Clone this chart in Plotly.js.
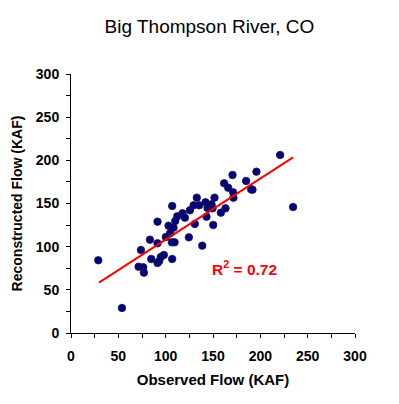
<!DOCTYPE html>
<html>
<head>
<meta charset="utf-8">
<script src="https://cdn.plot.ly/plotly-3.0.1.min.js"></script>
<style>html,body{margin:0;padding:0;background:#fff;}#chart{width:399px;height:404px;}</style>
</head>
<body>
<div id="chart"></div>
<script>
const observed = [28.8, 53.8, 71.4, 76.3, 77.0, 73.9, 83.4, 84.8, 91.4, 91.4, 91.4, 93.2, 94.9, 98.1, 100.2, 103.0, 104.8, 106.9, 106.6, 109.4, 106.9, 108.3, 110.1, 112.2, 117.8, 120.3, 124.5, 125.6, 129.5, 130.8, 132.9, 135.4, 138.6, 142.1, 144.2, 143.1, 148.4, 149.5, 150.2, 151.6, 158.3, 161.8, 163.2, 166.0, 170.6, 171.3, 171.6, 185.0, 190.3, 191.7, 195.9, 220.9, 234.6];
const reconstructed = [84.2, 29.0, 76.8, 76.1, 69.9, 96.1, 108.1, 85.7, 129.0, 103.9, 81.1, 83.4, 88.0, 90.4, 111.2, 124.3, 115.8, 147.1, 105.0, 105.0, 85.7, 122.0, 129.7, 135.1, 138.6, 133.6, 110.8, 142.1, 147.9, 126.3, 156.8, 147.9, 101.2, 151.4, 144.8, 134.7, 149.0, 144.4, 125.1, 156.8, 139.4, 173.4, 144.4, 168.3, 183.0, 162.9, 156.8, 176.1, 166.4, 166.0, 186.9, 206.2, 145.9];
const trendX = [29.5, 234.6];
const trendY = [58.3, 203.5];
const r2Label = 'R<sup>2</sup> = 0.72';
const r2Pos = [183.5, 75.6];

const traces = [
  {x: observed, y: reconstructed, mode: 'markers', type: 'scatter',
   marker: {size: 7.5, color: '#000080', line: {color: '#1a1a40', width: 0.8}}, hoverinfo: 'skip'},
  {x: trendX, y: trendY, mode: 'lines', type: 'scatter',
   line: {color: '#ff0000', width: 2}, hoverinfo: 'skip'}
];
const axisCommon = {
  range: [0, 300], dtick: 50, tick0: 0, showgrid: false, zeroline: false,
  showline: true, linecolor: '#000', linewidth: 1,
  ticks: 'outside', ticklen: 4, tickcolor: '#000', tickwidth: 1,
  minor: {dtick: 25, ticks: 'outside', ticklen: 4, tickcolor: '#000', tickwidth: 1, showgrid: false},
  tickfont: {family: 'Liberation Sans, Arial, sans-serif', size: 14, color: '#000', weight: 'bold'},
  fixedrange: true
};
const layout = {
  width: 399, height: 404,
  margin: {l: 71, r: 44, t: 74, b: 71},
  paper_bgcolor: '#fff', plot_bgcolor: '#fff',
  showlegend: false,
  font: {family: 'Liberation Sans, Arial, sans-serif', color: '#000'},
  title: {text: 'Big Thompson River, CO', x: 0.525, xanchor: 'center', y: 0.936, yanchor: 'middle',
          font: {family: 'Liberation Sans, Arial, sans-serif', size: 19, color: '#000'}},
  xaxis: Object.assign({}, axisCommon, {
    ticklabelstandoff: 6,
    title: {text: 'Observed Flow (KAF)', standoff: 11,
            font: {family: 'Liberation Sans, Arial, sans-serif', size: 15, color: '#000', weight: 'bold'}}
  }),
  yaxis: Object.assign({}, axisCommon, {
    ticklabelstandoff: 4,
    title: {text: 'Reconstructed Flow (KAF)', standoff: 9,
            font: {family: 'Liberation Sans, Arial, sans-serif', size: 14, color: '#000', weight: 'bold'}}
  }),
  annotations: [{x: r2Pos[0], y: r2Pos[1], xref: 'x', yref: 'y', text: r2Label, showarrow: false,
    font: {family: 'Liberation Sans, Arial, sans-serif', size: 15.5, color: '#ff0000', weight: 'bold'}}]
};
Plotly.newPlot('chart', traces, layout, {displayModeBar: false, staticPlot: true});
</script>
</body>
</html>
